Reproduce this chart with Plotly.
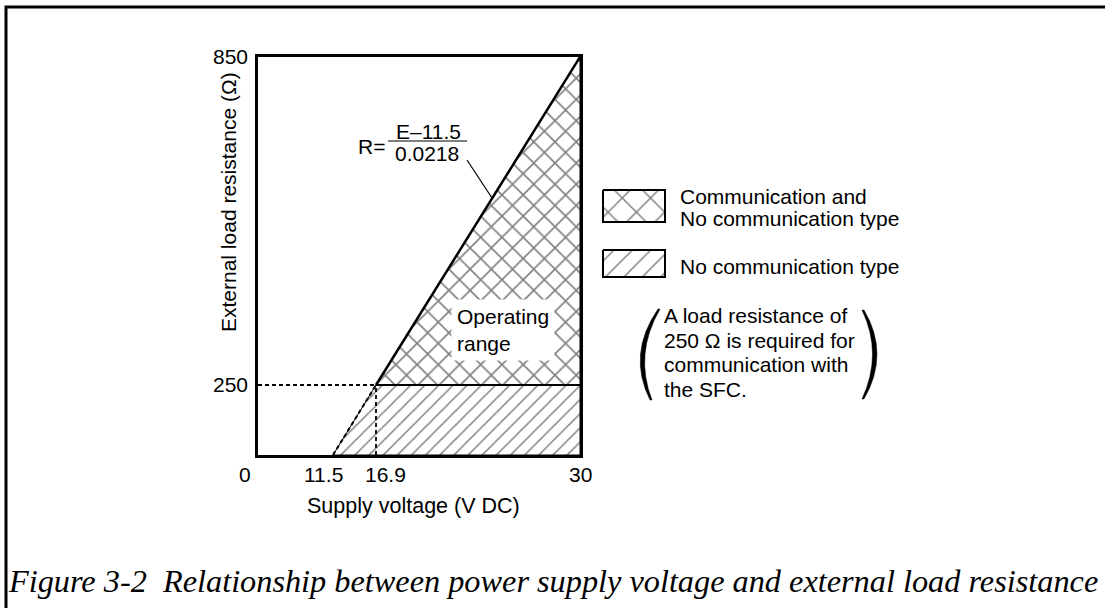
import numpy as np
import plotly.graph_objects as go

# ---------------- data ----------------
voltage_ticks = [0, 11.5, 16.9, 30]          # supply voltage, V DC
voltage_labels = ["0", "11.5", "16.9", "30"]
resistance_ticks = [0, 250, 850]              # external load resistance, ohm
resistance_labels = ["0", "250", "850"]

# boundary line R = (E - 11.5) / 0.0218 at the marked points
line_E = [11.5, 16.9, 30]
line_R = [0, 250, 850]

comm_R = 250                                  # minimum load for communication

# "Communication and No communication type" region
both_E = [16.9, 30, 30, 16.9]
both_R = [250, 850, 250, 250]
# "No communication type" region
nocomm_E = [11.5, 16.9, 30, 30, 11.5]
nocomm_R = [0, 250, 250, 0, 0]

legend_lines_1 = ["Communication and", "No communication type"]
legend_lines_2 = ["No communication type"]
note_lines = ["A load resistance of", "250 \u03a9 is required for",
              "communication with", "the SFC."]
caption = "Figure 3-2  Relationship between power supply voltage and external load resistance"

# ---------------- layout / schematic scale ----------------
W, H = 1105, 608
PX_L, PX_R, PX_T, PX_B = 258, 580, 57, 455
X_DISP = [0, 75, 118, PX_R - PX_L]   # schematic (non-linear) axis break positions
Y_DISP = [0, 70, PX_B - PX_T]
FONT = "Liberation Sans, Arial, sans-serif"
FS = 21


def fx(v):
    return np.interp(v, voltage_ticks, X_DISP)


def fy(v):
    return np.interp(v, resistance_ticks, Y_DISP)


fig = go.Figure()

# hatched regions
fig.add_trace(go.Scatter(
    x=fx(nocomm_E), y=fy(nocomm_R), mode="lines", fill="toself",
    line=dict(color="black", width=1), fillcolor="white",
    fillpattern=dict(shape="/", size=10, solidity=0.15, fgcolor="black", bgcolor="white"),
    hoverinfo="skip", showlegend=False))
fig.add_trace(go.Scatter(
    x=fx(both_E), y=fy(both_R), mode="lines", fill="toself",
    line=dict(color="black", width=1), fillcolor="white",
    fillpattern=dict(shape="x", size=15, solidity=0.2, fgcolor="black", bgcolor="white"),
    hoverinfo="skip", showlegend=False))

DASH = "4px,3px"
# dotted part of the boundary (below 250 ohm)
fig.add_trace(go.Scatter(x=fx(line_E[:2]), y=fy(line_R[:2]), mode="lines",
                         line=dict(color="black", width=2, dash=DASH),
                         hoverinfo="skip", showlegend=False))
# solid part of the boundary
fig.add_trace(go.Scatter(x=fx(line_E[1:]), y=fy(line_R[1:]), mode="lines",
                         line=dict(color="black", width=2.5),
                         hoverinfo="skip", showlegend=False))
# 250 ohm dashed guides
fig.add_trace(go.Scatter(x=fx([0, 16.9]), y=fy([comm_R, comm_R]), mode="lines",
                         line=dict(color="black", width=1.8, dash=DASH),
                         hoverinfo="skip", showlegend=False))
fig.add_trace(go.Scatter(x=fx([16.9, 16.9]), y=fy([0, comm_R]), mode="lines",
                         line=dict(color="black", width=1.8, dash=DASH),
                         hoverinfo="skip", showlegend=False))
# 250 ohm solid line
fig.add_trace(go.Scatter(x=fx([16.9, 30]), y=fy([comm_R, comm_R]), mode="lines",
                         line=dict(color="black", width=2),
                         hoverinfo="skip", showlegend=False))

# legend swatches (pixel overlay axes)
for (x0, y0, x1, y1), shp, sz, sol in [((603, 190, 665, 222), "x", 20, 0.14),
                                       ((603, 250, 665, 277), "/", 13, 0.11)]:
    fig.add_trace(go.Scatter(
        x=[x0, x1, x1, x0, x0], y=[y0, y0, y1, y1, y0], xaxis="x2", yaxis="y2",
        mode="lines", fill="toself", line=dict(color="black", width=2),
        fillcolor="white",
        fillpattern=dict(shape=shp, size=sz, solidity=sol, fgcolor="black", bgcolor="white"),
        hoverinfo="skip", showlegend=False))

ann = []


def px_ann(text, x, y, size=FS, xanchor="center", **kw):
    ann.append(dict(text=text, x=x, y=y, xref="x2", yref="y2", showarrow=False,
                    xanchor=xanchor, yanchor="middle",
                    font=dict(family=FONT, size=size, color="black"), **kw))


# x tick labels (placed beside their schematic positions)
x_shift = [-13, -10, 9, 0]
for v, lab, s in zip(voltage_ticks, voltage_labels, x_shift):
    px_ann(lab, float(fx(v)) + PX_L + s, 474)

# axis titles
px_ann("Supply voltage (V DC)", 413, 506, size=21.5)
px_ann("External load resistance (\u03a9)", 228, 202, size=21, textangle=-90)

# equation
px_ann("R=", 371, 146)
px_ann("E\u201311.5", 428, 131)
px_ann("0.0218", 427, 153)

# operating range label
ann.append(dict(text="Operating<br>range", x=451 - PX_L, y=PX_B - 330, xref="x", yref="y",
                showarrow=False, xanchor="left", yanchor="middle", align="left",
                bgcolor="white", borderpad=5,
                font=dict(family=FONT, size=FS, color="black")))

# legend texts
for t, y in zip(legend_lines_1, [196, 218]):
    px_ann(t, 678, y, xanchor="left")
for t, y in zip(legend_lines_2, [266]):
    px_ann(t, 678, y, xanchor="left")
# note
for t, y in zip(note_lines, [315, 340, 364, 389]):
    px_ann(t, 662, y, xanchor="left")

# caption
ann.append(dict(text="<i>" + caption + "</i>", x=553, y=581, xref="x2", yref="y2",
                showarrow=False, xanchor="center", yanchor="middle",
                font=dict(family="Liberation Serif, Times New Roman, serif", size=32.3,
                          color="black")))

shapes = [
    # outer frame
    dict(type="rect", xref="x2", yref="y2", x0=6, y0=7, x1=1120, y1=640,
         line=dict(color="black", width=3), layer="above"),
    # fraction bar
    dict(type="line", xref="x2", yref="y2", x0=388, y0=141, x1=467, y1=141,
         line=dict(color="#555555", width=1.5)),
    # leader line to boundary
    dict(type="line", xref="x2", yref="y2", x0=467, y0=160, x1=492, y1=198,
         line=dict(color="black", width=1.2)),
    # parentheses
    dict(type="path", xref="x2", yref="y2",
         path="M 658,309 Q 627,354 650,400 L 652,400 Q 634,354 660,309 Z",
         fillcolor="black", line=dict(color="black", width=0.5)),
    dict(type="path", xref="x2", yref="y2",
         path="M 864,310 Q 890,354 864,399 L 862,399 Q 883,354 862,310 Z",
         fillcolor="black", line=dict(color="black", width=0.5)),
]

fig.update_layout(
    width=W, height=H, margin=dict(l=0, r=0, t=0, b=0, pad=0, autoexpand=False),
    paper_bgcolor="white", plot_bgcolor="rgba(0,0,0,0)",
    font=dict(family=FONT, size=FS, color="black"),
    hovermode=False, showlegend=False,
    xaxis=dict(domain=[PX_L / W, PX_R / W], range=[0, PX_R - PX_L],
               showgrid=False, zeroline=False, showticklabels=False, ticks="",
               showline=True, mirror=True, linecolor="black", linewidth=2.5,
               fixedrange=True),
    yaxis=dict(domain=[(H - PX_B) / H, (H - PX_T) / H], range=[0, PX_B - PX_T],
               showgrid=False, zeroline=False, ticks="",
               tickvals=list(fy(resistance_ticks[1:])), ticktext=resistance_labels[1:],
               tickfont=dict(family=FONT, size=FS, color="black"),
               ticklabelstandoff=3,
               showline=True, mirror=True, linecolor="black", linewidth=2.5,
               fixedrange=True),
    xaxis2=dict(domain=[0, 1], range=[0, W], visible=False, anchor="y2", fixedrange=True),
    yaxis2=dict(domain=[0, 1], range=[H, 0], visible=False, anchor="x2", fixedrange=True),
    annotations=ann, shapes=shapes,
)

fig.write_html("out.html", config={"displayModeBar": False},
               post_script="document.body.style.margin='0';document.body.style.overflow='hidden';")
